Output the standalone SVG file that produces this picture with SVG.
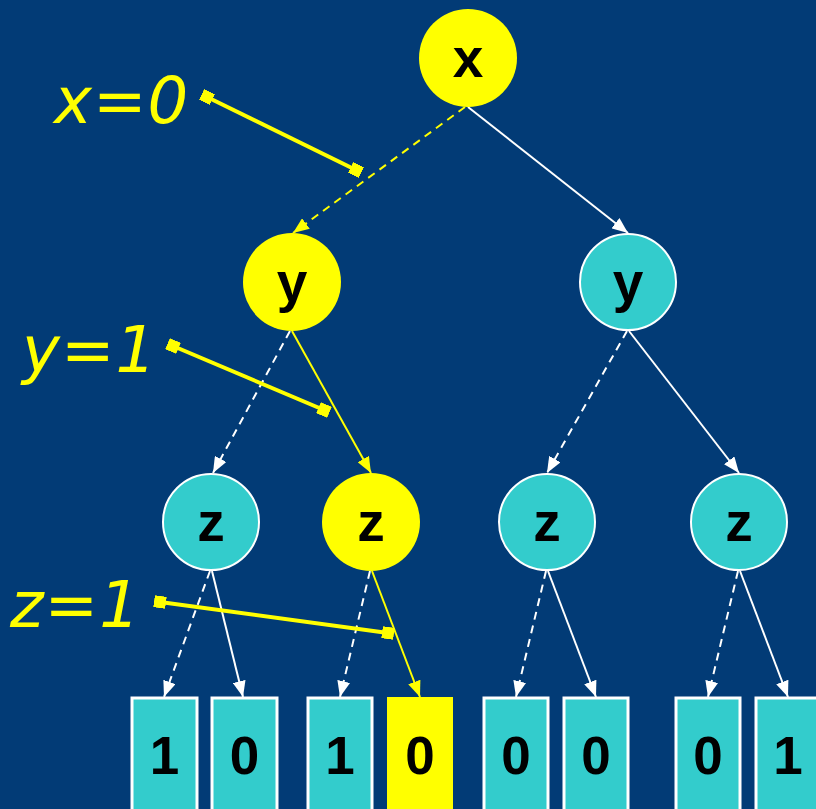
<svg xmlns="http://www.w3.org/2000/svg" width="816" height="809" viewBox="0 0 816 809">
<defs>
<marker id="aw" viewBox="0 0 16 13" refX="16" refY="6.5" markerWidth="16" markerHeight="13" markerUnits="userSpaceOnUse" orient="auto"><path d="M0,0 L16,6.5 L0,13 Z" fill="#fff"/></marker>
<marker id="ay" viewBox="0 0 16 13" refX="16" refY="6.5" markerWidth="16" markerHeight="13" markerUnits="userSpaceOnUse" orient="auto"><path d="M0,0 L16,6.5 L0,13 Z" fill="#ff0"/></marker>
<marker id="sq" viewBox="0 0 10 10" refX="5" refY="5" markerWidth="12" markerHeight="12" markerUnits="userSpaceOnUse" orient="auto"><rect x="0" y="0" width="10" height="10" fill="#ff0"/></marker>
</defs>
<style>
.bg{fill:#023b76}
.ny{fill:#ff0;stroke:none}
.nt{fill:#33cccc;stroke:#fff;stroke-width:2}
.by{fill:#ff0;stroke:none}
.bt{fill:#33cccc;stroke:#fff;stroke-width:3}
.lbl{font-family:"Liberation Sans",Arial,sans-serif;font-weight:bold;fill:#000;text-anchor:middle}
.nl{font-size:55px}
.bl{font-size:53px}
.e{fill:none;stroke-width:2}
.w{stroke:#fff;marker-end:url(#aw)}
.y{stroke:#ff0;marker-end:url(#ay)}
.d{stroke-dasharray:8,6}
.ptr{stroke:#ff0;stroke-width:4;fill:none;marker-start:url(#sq);marker-end:url(#sq)}
.note{font-family:"DejaVu Sans",Verdana,sans-serif;font-style:italic;font-size:64px;fill:#ff0;letter-spacing:1px}
</style>
<rect class="bg" x="0" y="0" width="816" height="809"/>
<g id="connectors">
<line class="e y d" x1="465" y1="107" x2="293" y2="233"/>
<line class="e w" x1="468" y1="107" x2="628" y2="233"/>
<line class="e w d" x1="290" y1="331" x2="213" y2="473"/>
<line class="e y" x1="292" y1="331" x2="371" y2="473"/>
<line class="e w d" x1="627" y1="331" x2="547" y2="473"/>
<line class="e w" x1="629" y1="331" x2="739" y2="473"/>
<line class="e w d" x1="210" y1="571" x2="164" y2="697"/>
<line class="e w" x1="212" y1="571" x2="243" y2="697"/>
<line class="e w d" x1="370" y1="571" x2="340" y2="697"/>
<line class="e y" x1="372" y1="571" x2="420" y2="697"/>
<line class="e w d" x1="546" y1="571" x2="516" y2="697"/>
<line class="e w" x1="548" y1="571" x2="596" y2="697"/>
<line class="e w d" x1="738" y1="571" x2="708" y2="697"/>
<line class="e w" x1="740" y1="571" x2="788" y2="697"/>
</g>
<g id="node-x"><circle class="ny" cx="468" cy="58" r="49"/><text class="lbl nl" x="468" y="77">x</text></g>
<g id="node-y1"><circle class="ny" cx="292" cy="282" r="49"/><text class="lbl nl" x="292" y="301">y</text></g>
<g id="node-y2"><circle class="nt" cx="628" cy="282" r="48"/><text class="lbl nl" x="628" y="301">y</text></g>
<g id="node-z1"><circle class="nt" cx="211" cy="522" r="48"/><text class="lbl nl" x="211" y="541">z</text></g>
<g id="node-z2"><circle class="ny" cx="371" cy="522" r="49"/><text class="lbl nl" x="371" y="541">z</text></g>
<g id="node-z3"><circle class="nt" cx="547" cy="522" r="48"/><text class="lbl nl" x="547" y="541">z</text></g>
<g id="node-z4"><circle class="nt" cx="739" cy="522" r="48"/><text class="lbl nl" x="739" y="541">z</text></g>
<g id="leaf-1"><rect class="bt" x="132" y="698" width="65" height="120"/><text class="lbl bl" x="164.5" y="774">1</text></g>
<g id="leaf-2"><rect class="bt" x="212" y="698" width="65" height="120"/><text class="lbl bl" x="244.5" y="774">0</text></g>
<g id="leaf-3"><rect class="bt" x="308" y="698" width="64" height="120"/><text class="lbl bl" x="340" y="774">1</text></g>
<g id="leaf-4"><rect class="by" x="387" y="697" width="66" height="120"/><text class="lbl bl" x="420" y="774">0</text></g>
<g id="leaf-5"><rect class="bt" x="484" y="698" width="64" height="120"/><text class="lbl bl" x="516" y="774">0</text></g>
<g id="leaf-6"><rect class="bt" x="564" y="698" width="64" height="120"/><text class="lbl bl" x="596" y="774">0</text></g>
<g id="leaf-7"><rect class="bt" x="676" y="698" width="64" height="120"/><text class="lbl bl" x="708" y="774">0</text></g>
<g id="leaf-8"><rect class="bt" x="756" y="698" width="64" height="120"/><text class="lbl bl" x="788" y="774">1</text></g>
<g id="annotations">
<line class="ptr" x1="207" y1="97" x2="356" y2="170"/>
<text class="note" x="54" y="123">x=0</text>
<line class="ptr" x1="173" y1="346" x2="324" y2="410"/>
<text class="note" x="22" y="372">y=1</text>
<line class="ptr" x1="160" y1="602" x2="388" y2="633"/>
<text class="note" x="10" y="627">z=1</text>
</g>
</svg>
